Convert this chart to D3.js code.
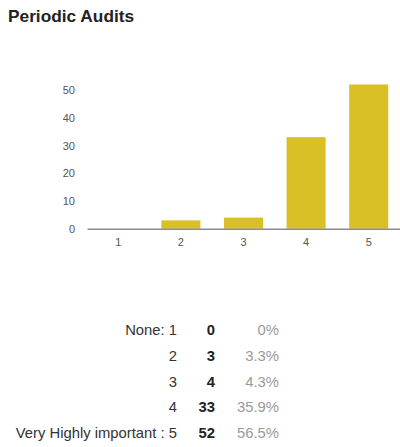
<!DOCTYPE html>
<html><head><meta charset="utf-8">
<script src="https://cdn.jsdelivr.net/npm/d3@7"></script>
<style>
body{margin:0;background:#fff;}
svg{display:block;font-family:"Liberation Sans",Arial,sans-serif;}
</style></head>
<body>
<svg id="c" width="400" height="447"></svg>
<script>
const title = "Periodic Audits";
const categories = ["1","2","3","4","5"];
const counts = [0,3,4,33,52];
const rowLabels = ["None: 1","2","3","4","Very Highly important : 5"];
const percents = ["0%","3.3%","4.3%","35.9%","56.5%"];
const yTicks = [0,10,20,30,40,50];

const svg = d3.select("#c");
svg.append("text").attr("x",8).attr("y",22).attr("font-size",17.3).attr("font-weight","bold")
  .attr("fill","#222").text(title);

const x = d3.scaleBand().domain(categories).range([87,400]).paddingInner(0.376).paddingOuter(0.188);
const y = d3.scaleLinear().domain([0,50]).range([228.7,90]);

svg.selectAll("rect.bar").data(counts).join("rect").attr("class","bar")
  .attr("x",(d,i)=>x(categories[i])).attr("width",x.bandwidth())
  .attr("y",d=>y(d)).attr("height",d=>y(0)-y(d)).attr("fill","#d8c026");

const ya = svg.append("g").attr("transform","translate(75,0)")
  .call(d3.axisLeft(y).tickValues(yTicks).tickSize(0).tickPadding(0));
ya.select(".domain").remove();
ya.selectAll("text").attr("font-size",11).attr("fill","#555").attr("font-family","Liberation Sans, Arial, sans-serif");

const xa = svg.append("g").attr("transform",`translate(0,${y(0)})`)
  .call(d3.axisBottom(x).tickSize(0).tickPadding(10));
xa.select(".domain").attr("stroke","#8a8a96").attr("stroke-width",1.5);
xa.selectAll("text").attr("font-size",11).attr("fill","#555").attr("font-family","Liberation Sans, Arial, sans-serif");

const rowY = d3.scalePoint().domain(d3.range(5)).range([335,438]);
const tbl = svg.append("g").attr("font-size",14.8);
tbl.selectAll("text.l").data(rowLabels).join("text").attr("class","l")
  .attr("x",177).attr("y",(d,i)=>rowY(i)).attr("text-anchor","end").attr("fill","#333").text(d=>d);
tbl.selectAll("text.n").data(counts).join("text").attr("class","n")
  .attr("x",215).attr("y",(d,i)=>rowY(i)).attr("text-anchor","end").attr("font-weight","bold").attr("fill","#222").text(d=>d);
tbl.selectAll("text.p").data(percents).join("text").attr("class","p")
  .attr("x",279).attr("y",(d,i)=>rowY(i)).attr("text-anchor","end").attr("fill","#999").text(d=>d);
</script>
</body></html>
